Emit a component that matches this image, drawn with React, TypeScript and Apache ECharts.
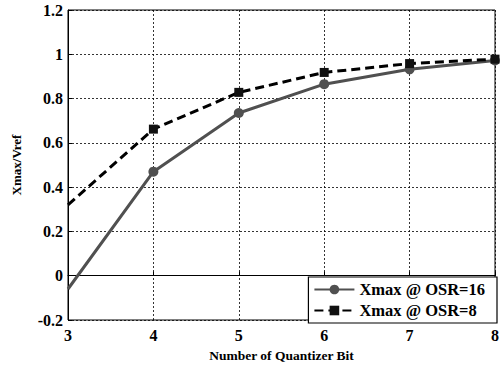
import React, { useEffect, useRef } from "react";
import * as echarts from "echarts";

const bits = [3, 4, 5, 6, 7, 8];
const osr16 = [-0.06, 0.47, 0.735, 0.865, 0.932, 0.972];
const osr8 = [0.32, 0.662, 0.828, 0.918, 0.958, 0.978];
const seriesNames = ["Xmax @ OSR=16", "Xmax @ OSR=8"];

const FONT = "'Liberation Serif', 'Times New Roman', serif";

export default function App() {
  const ref = useRef<HTMLDivElement>(null);
  useEffect(() => {
    if (!ref.current) return;
    const chart = echarts.init(ref.current, undefined, { renderer: "svg" });
    const toData = (vals: number[]) =>
      bits.map((b, i) => (i === 0 ? { value: [b, vals[i]], symbol: "none" } : [b, vals[i]]));
    chart.setOption({
      animation: false,
      backgroundColor: "#fff",
      textStyle: { fontFamily: FONT },
      grid: {
        left: 68,
        right: 4,
        top: 10,
        bottom: 39,
        show: true,
        borderColor: "#000",
        borderWidth: 1,
      },
      legend: {
        orient: "vertical",
        right: 5,
        bottom: 44,
        itemWidth: 40,
        itemHeight: 12,
        itemGap: 4,
        padding: [4, 12, 4, 5],
        borderColor: "#000",
        borderWidth: 1.2,
        backgroundColor: "#fff",
        textStyle: { fontFamily: FONT, fontWeight: "bold", fontSize: 16.5, color: "#000" },
        data: seriesNames,
      },
      xAxis: {
        type: "value",
        min: 3,
        max: 8,
        interval: 1,
        name: "Number of Quantizer Bit",
        nameLocation: "middle",
        nameGap: 28,
        nameTextStyle: { fontFamily: FONT, fontWeight: "bold", fontSize: 13.5, color: "#000" },
        axisLine: { show: true, lineStyle: { color: "#000" } },
        axisTick: { show: true, inside: true, length: 4, lineStyle: { color: "#000" } },
        axisLabel: { fontFamily: FONT, fontWeight: "bold", fontSize: 16, color: "#000", margin: 7 },
        splitLine: { show: true, lineStyle: { color: "#000", type: [2, 2], width: 0.8 } },
      },
      yAxis: {
        type: "value",
        min: -0.2,
        max: 1.2,
        interval: 0.2,
        name: "Xmax/Vref",
        nameLocation: "middle",
        nameGap: 45,
        nameTextStyle: { fontFamily: FONT, fontWeight: "bold", fontSize: 13, color: "#000" },
        axisLine: { show: true, lineStyle: { color: "#000" } },
        axisTick: { show: true, inside: true, length: 4, lineStyle: { color: "#000" } },
        axisLabel: {
          fontFamily: FONT,
          fontWeight: "bold",
          fontSize: 16,
          color: "#000",
          margin: 5,
          formatter: (v: number) => String(Math.round(v * 10) / 10),
        },
        splitLine: { show: true, lineStyle: { color: "#000", type: [2, 2], width: 0.8 } },
      },
      series: [
        {
          name: seriesNames[0],
          type: "line",
          data: toData(osr16),
          symbol: "circle",
          symbolSize: 10,
          lineStyle: { color: "#505050", width: 3 },
          itemStyle: { color: "#505050" },
          z: 2,
        },
        {
          name: seriesNames[1],
          type: "line",
          data: toData(osr8),
          symbol: "rect",
          symbolSize: 9,
          lineStyle: { color: "#000", width: 3, type: [9, 5] },
          itemStyle: { color: "#111" },
          z: 3,
        },
      ],
    });
    return () => chart.dispose();
  }, []);
  return <div ref={ref} style={{ width: 502, height: 367, position: "absolute", left: 0, top: 0 }} />;
}
